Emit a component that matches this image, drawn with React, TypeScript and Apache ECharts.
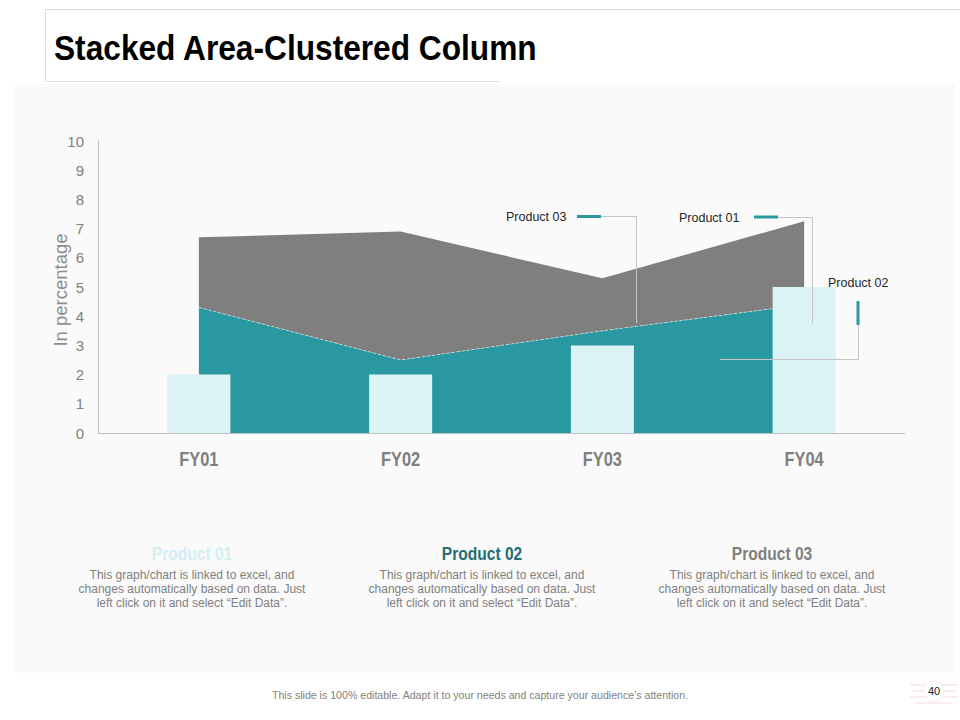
import React, { useEffect, useRef } from "react";
import * as echarts from "echarts";

const categories = ["FY01", "FY02", "FY03", "FY04"];
const product01Bars = [2, 2, 3, 5];
const product02Area = [4.3, 2.5, 3.5, 4.4];
const product03Area = [2.4, 4.4, 1.8, 2.85];
const yTicks = { min: 0, max: 10, interval: 1 };
const legendNames = ["Product 01", "Product 02", "Product 03"];
const legendBody = [
  "This graph/chart is linked to excel, and",
  "changes automatically based on data. Just",
  "left click on it and select \u201cEdit Data\u201d.",
];

const SANS = "'Liberation Sans', Arial, sans-serif";
const NARROW_SCALE = 0.82;

const C_BAR = "#dbf3f5";
const C_TEAL = "#2a98a1";
const C_GRAY = "#7f7f7f";
const C_LINE = "#c4c4c4";

export default function App() {
  const ref = useRef<HTMLDivElement>(null);
  useEffect(() => {
    if (!ref.current) return;
    const chart = echarts.init(ref.current, null, { renderer: "svg" });

    const narrowText = (
      text: string,
      x: number,
      y: number,
      size: number,
      fill: string,
      align = "center",
      scale = NARROW_SCALE
    ) => ({
      type: "text",
      x,
      y,
      scaleX: scale,
      style: {
        text,
        font: `bold ${size}px ${SANS}`,
        fill,
        align,
        verticalAlign: "middle",
      },
    });

    const legendColors = ["#d3eff2", "#236e73", "#7f7f7f"];
    const legendX = [192, 482, 772];
    const legendGraphics: any[] = [];
    legendNames.forEach((n, i) => {
      legendGraphics.push(narrowText(n, legendX[i], 553, 19, legendColors[i]));
      legendBody.forEach((t, j) => {
        legendGraphics.push({
          type: "text",
          x: legendX[i],
          y: 575 + j * 14,
          style: {
            text: t,
            font: `12px ${SANS}`,
            fill: "#808080",
            align: "center",
            verticalAlign: "middle",
          },
        });
      });
    });

    const callout = (text: string, tx: number, ty: number) => ({
      type: "text",
      x: tx,
      y: ty,
      z: 100,
      style: { text, font: `12.5px ${SANS}`, fill: "#262626", align: "left", verticalAlign: "middle" },
    });

    const baseGraphics: any[] = [
      // chart panel background
      { type: "rect", z: -10, shape: { x: 14, y: 84, width: 941, height: 589 }, style: { fill: "#fafafa" } },
      // title frame
      { type: "line", shape: { x1: 45, y1: 9.5, x2: 960, y2: 9.5 }, style: { stroke: "#dedede", lineWidth: 1 } },
      { type: "line", shape: { x1: 45.5, y1: 9, x2: 45.5, y2: 81 }, style: { stroke: "#dedede", lineWidth: 1 } },
      { type: "line", shape: { x1: 45, y1: 81.5, x2: 500, y2: 81.5 }, style: { stroke: "#dedede", lineWidth: 1 } },
      narrowText("Stacked Area-Clustered Column", 54, 47, 36, "#000000", "left", 0.88),
      // y axis title
      {
        type: "text",
        x: 60,
        y: 290,
        rotation: Math.PI / 2,
        style: {
          text: "In percentage",
          font: `18.5px ${SANS}`,
          fill: "#8c8c8c",
          align: "center",
          verticalAlign: "middle",
        },
      },
      // callouts
      callout("Product 03", 506, 217),
      { type: "line", z: 100, shape: { x1: 577, y1: 216.5, x2: 601, y2: 216.5 }, style: { stroke: C_TEAL, lineWidth: 3 } },
      { type: "polyline", z: 100, shape: { points: [[601, 216.5], [636.5, 216.5], [636.5, 323]] }, style: { stroke: C_LINE, lineWidth: 1, fill: null } },
      callout("Product 01", 679, 218),
      { type: "line", z: 100, shape: { x1: 754, y1: 217, x2: 778, y2: 217 }, style: { stroke: C_TEAL, lineWidth: 3 } },
      { type: "polyline", z: 100, shape: { points: [[778, 217.5], [812.5, 217.5], [812.5, 323]] }, style: { stroke: C_LINE, lineWidth: 1, fill: null } },
      callout("Product 02", 828, 283),
      { type: "line", z: 100, shape: { x1: 858, y1: 301, x2: 858, y2: 325 }, style: { stroke: C_TEAL, lineWidth: 3 } },
      { type: "polyline", z: 100, shape: { points: [[858.5, 325], [858.5, 359.5], [720, 359.5]] }, style: { stroke: C_LINE, lineWidth: 1, fill: null } },
      // bottom legend
      ...legendGraphics,
      // footer
      {
        type: "text",
        x: 480,
        y: 695,
        style: {
          text: "This slide is 100% editable. Adapt it to your needs and capture your audience\u2019s attention.",
          font: `10.6px ${SANS}`,
          fill: "#7f7f7f",
          align: "center",
          verticalAlign: "middle",
        },
      },
      { type: "rect", shape: { x: 910, y: 684, width: 48, height: 2 }, style: { fill: "#fbecee" } },
      { type: "rect", shape: { x: 913, y: 690, width: 42, height: 2 }, style: { fill: "#fbecee" } },
      { type: "rect", shape: { x: 910, y: 696, width: 48, height: 2 }, style: { fill: "#fbecee" } },
      { type: "rect", shape: { x: 916, y: 702, width: 36, height: 2 }, style: { fill: "#fbecee" } },
      { type: "circle", shape: { cx: 934, cy: 691, r: 10 }, style: { fill: "#ffffff", stroke: "#fbeef0", lineWidth: 1 } },
      {
        type: "text",
        x: 934,
        y: 691,
        style: { text: "40", font: `11px ${SANS}`, fill: "#222222", align: "center", verticalAlign: "middle" },
      },
    ];

    chart.setOption({
      animation: false,
      backgroundColor: "#ffffff",
      grid: { left: 98, right: 55, top: 141, bottom: 287 },
      xAxis: {
        type: "category",
        data: categories,
        boundaryGap: true,
        axisLine: { lineStyle: { color: "#bfbfbf", width: 1 } },
        axisTick: { show: false },
        axisLabel: { show: false },
        splitLine: { show: false },
      },
      yAxis: {
        type: "value",
        min: yTicks.min,
        max: yTicks.max,
        interval: yTicks.interval,
        axisLine: { show: true, lineStyle: { color: "#bfbfbf", width: 1 } },
        axisTick: { show: false },
        splitLine: { show: false },
        axisLabel: { color: "#808080", fontFamily: SANS, fontSize: 15, margin: 14 },
      },
      series: [
        {
          name: "Product 02",
          type: "line",
          stack: "area",
          data: product02Area,
          symbol: "none",
          lineStyle: { color: "rgba(255,255,255,0.55)", width: 1, type: [3, 2] },
          areaStyle: { color: C_TEAL, opacity: 1 },
          z: 2,
        },
        {
          name: "Product 03",
          type: "line",
          stack: "area",
          data: product03Area,
          symbol: "none",
          lineStyle: { width: 0 },
          areaStyle: { color: C_GRAY, opacity: 1 },
          z: 1,
        },
        {
          name: "Product 01",
          type: "bar",
          data: product01Bars,
          barWidth: 63,
          itemStyle: { color: C_BAR },
          z: 3,
        },
      ],
      graphic: baseGraphics,
    });

    // category labels placed through the axis scale, drawn narrow like the reference
    const xLabels = categories.map((c) => {
      const px = chart.convertToPixel({ xAxisIndex: 0 }, c) as number;
      const py = chart.convertToPixel({ yAxisIndex: 0 }, yTicks.min) as number;
      return narrowText(c, px, py + 26, 20, "#7f7f7f");
    });
    chart.setOption({ graphic: [...baseGraphics, ...xLabels] });

    return () => chart.dispose();
  }, []);
  return (
    <div
      ref={ref}
      style={{ position: "fixed", left: 0, top: 0, width: 960, height: 720, background: "#ffffff" }}
    />
  );
}
